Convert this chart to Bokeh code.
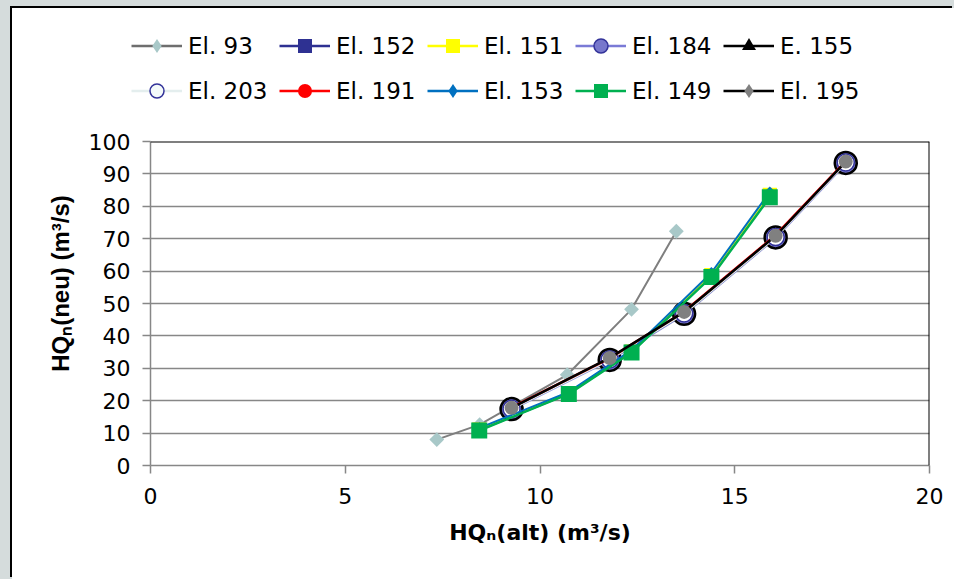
from math import pi
from bokeh.plotting import figure
from bokeh.models import Range1d, FixedTicker, Legend, LegendItem, Span
from bokeh.layouts import column
from bokeh.embed import file_html
from bokeh.resources import INLINE

# ---------------- data ----------------
x_ticks = [0, 5, 10, 15, 20]
y_ticks = [0, 10, 20, 30, 40, 50, 60, 70, 80, 90, 100]

el93_x = [7.35, 8.45, 10.7, 12.35, 13.5]
el93_y = [8.0, 12.6, 28.0, 48.2, 72.3]

el152_x = [8.44, 10.74, 12.35, 14.4, 15.9]
el152_y = [11.0, 22.3, 35.1, 58.6, 83.3]

el151_x = [8.44, 10.74, 12.35, 14.4, 15.9]
el151_y = [11.1, 22.4, 35.2, 58.8, 83.6]

el184_x = [9.27, 11.79, 13.7, 16.05, 17.85]
el184_y = [17.4, 32.6, 46.8, 70.4, 93.4]

e155_x = [9.27, 11.79, 13.7, 16.05, 17.85]
e155_y = [17.6, 32.8, 47.0, 70.6, 93.6]

el203_x = [9.27, 11.79, 13.7, 16.05, 17.85]
el203_y = [17.5, 32.7, 46.9, 70.5, 93.5]

el191_x = [9.25, 11.77, 13.68, 16.03, 17.84]
el191_y = [17.8, 33.0, 47.3, 70.9, 93.8]

el153_x = [8.45, 10.74, 12.35, 14.4, 15.9]
el153_y = [11.6, 22.7, 35.6, 59.5, 84.4]

el149_x = [8.44, 10.74, 12.35, 14.4, 15.9]
el149_y = [10.8, 22.1, 34.9, 58.2, 82.8]

el195_x = [9.27, 11.79, 13.7, 16.05, 17.85]
el195_y = [17.8, 33.2, 47.4, 70.9, 93.8]

names = ["El. 93", "El. 152", "El. 151", "El. 184", "E. 155",
         "El. 203", "El. 191", "El. 153", "El. 149", "El. 195"]

FONT = "DejaVu Sans"
FONT_Y = "Liberation Sans"
GRID = "#878787"

# ---------------- legend strip (top) ----------------
leg_fig = figure(width=942, height=110, x_range=Range1d(0, 1), y_range=Range1d(0, 1),
                 output_backend="svg", toolbar_location=None,
                 x_axis_type=None, y_axis_type=None,
                 min_border_left=0, min_border_right=0, min_border_top=0, min_border_bottom=0,
                 background_fill_color="white", border_fill_color="white",
                 outline_line_color=None)
leg_fig.grid.grid_line_color = None
leg_fig.frame_align = False

# ---------------- main chart ----------------
p = figure(width=942, height=461, x_range=Range1d(0, 20), y_range=Range1d(0, 100),
           output_backend="svg", toolbar_location=None,
           min_border_left=138, min_border_right=25, min_border_top=23, min_border_bottom=114,
           background_fill_color="white", border_fill_color="white",
           outline_line_color=None)
p.frame_align = False

for ax in (p.xaxis, p.yaxis):
    ax.axis_line_color = GRID
    ax.axis_line_width = 1.5
    ax.major_tick_line_color = GRID
    ax.major_tick_line_width = 1.5
    ax.major_tick_out = 8
    ax.major_tick_in = 0
    ax.minor_tick_line_color = None
    ax.major_label_text_font = FONT
    ax.major_label_text_font_size = "22px"
    ax.major_label_text_color = "black"
    ax.axis_label_text_font_style = "bold"
    ax.axis_label_text_color = "black"

p.xaxis.axis_label_text_font = FONT
p.xaxis.axis_label_text_font_size = "22px"
p.yaxis.axis_label_text_font = FONT_Y
p.yaxis.axis_label_text_font_size = "24px"

p.xaxis.ticker = FixedTicker(ticks=x_ticks)
p.yaxis.ticker = FixedTicker(ticks=y_ticks)
p.xaxis.major_label_standoff = 14
p.yaxis.major_label_standoff = 12
p.xaxis.axis_label = "HQₙ(alt) (m³/s)"
p.yaxis.axis_label = "\u00a0" * 6 + "HQₙ(neu) (m³/s)"
p.xaxis.axis_label_standoff = 13
p.yaxis.axis_label_standoff = 12

p.xgrid.grid_line_color = None
p.ygrid.ticker = FixedTicker(ticks=y_ticks)
p.ygrid.grid_line_color = GRID
p.ygrid.grid_line_width = 1.5

# plot-area border (top/right black)
p.add_layout(Span(location=100, dimension="width", line_color="black", line_width=2))
p.add_layout(Span(location=20, dimension="height", line_color="black", line_width=2))

# series styles: (x, y, line color, line width, marker, size, fill, outline, outline width, angle)
D = pi / 4
styles = [
    (el93_x, el93_y, "#7F7F7F", 2, "square", 10.5, "#A8C8C8", None, 0, D),
    (el152_x, el152_y, "#2E3192", 2.5, "square", 14, "#2E3192", None, 0, 0),
    (el151_x, el151_y, "#FFFF00", 2.5, "square", 14, "#FFFF00", None, 0, 0),
    (el184_x, el184_y, "#7A7AD6", 3, "circle", 22, "#7777CC", "#000000", 2.5, 0),
    (e155_x, e155_y, "#000000", 2.5, "triangle", 9, "#000000", None, 0, 0),
    (el203_x, el203_y, "#E4EEEE", 2.5, "circle", 17, "#FFFFFF", "#333399", 1.5, 0),
    (el191_x, el191_y, "#FF0000", 2.5, "circle", 8, "#FF0000", None, 0, 0),
    (el153_x, el153_y, "#0070C0", 2, "square", 8, "#0070C0", None, 0, D),
    (el149_x, el149_y, "#00B050", 2.5, "square", 16, "#00B050", None, 0, 0),
    (el195_x, el195_y, "#000000", 2.5, "circle", 14, "#808080", None, 0, 0),
]

# legend-only marker styles (proxies placed outside the legend strip's visible range)
legend_sizes = [13, 12, 12, 13, 9, 13, 10, 12, 12, 11]
legend_markers = ["diamond", "square", "square", "circle", "triangle",
                  "circle", "circle", "diamond", "square", "diamond"]
legend_outline = [None, None, None, "#333399", None, "#333399", None, None, None, None]
legend_fill = [s[6] for s in styles]
legend_fill[5] = "#F4FAFA"
legend_line = [s[2] for s in styles]
legend_line[0] = "#6E6E6E"
legend_line[5] = "#E4EEEE"
proxy_x = [-5.0, -4.0]
proxy_y = [-5.0, -4.0]

items = []
for i, (xs, ys, lc, lw, mk, sz, fc, oc, ow, ang) in enumerate(styles):
    p.line(xs, ys, line_color=lc, line_width=lw)
    p.scatter(xs, ys, marker=mk, size=sz, fill_color=fc,
              line_color=oc, line_width=ow, angle=ang)
    lr = leg_fig.line(proxy_x, proxy_y, line_color=legend_line[i], line_width=2.5)
    sr = leg_fig.scatter(proxy_x, proxy_y, marker=legend_markers[i], size=legend_sizes[i],
                         fill_color=legend_fill[i], line_color=legend_outline[i],
                         line_width=1.5 if legend_outline[i] else 0)
    items.append(LegendItem(label=names[i], renderers=[lr, sr]))

legend = Legend(items=items, orientation="horizontal", ncols=5, location=(119, 10),
                padding=0, margin=0, spacing=10, border_line_color=None,
                background_fill_alpha=0, glyph_width=51, glyph_height=35,
                label_standoff=6, label_width=81, label_height=35,
                label_text_font=FONT, label_text_font_size="23px",
                label_text_color="black")
leg_fig.add_layout(legend)

inner = column(leg_fig, p, spacing=0, margin=(8, 0, 0, 12),
               styles={"background-color": "#FFFFFF",
                       "box-shadow": "-2px -2px 0 0 #000000"})
layout = column(inner, styles={"background-color": "#D5DCDC"})

open("out.html", "w").write(file_html(layout, INLINE))
